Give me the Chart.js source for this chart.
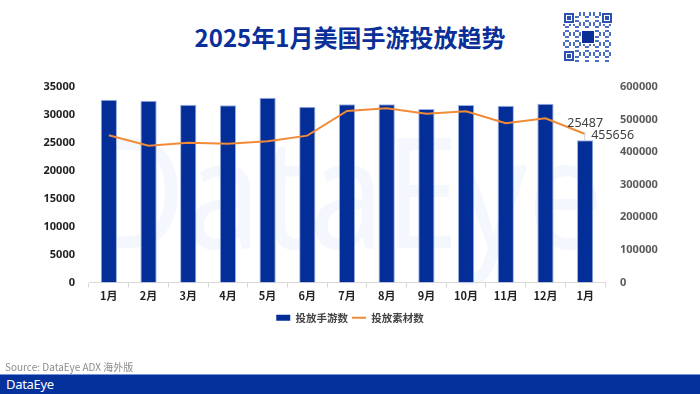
<!DOCTYPE html>
<html>
<head>
<meta charset="utf-8">
<script src="https://cdn.jsdelivr.net/npm/chart.js@4"></script>
<style>
  body { margin: 0; width: 700px; height: 394px; position: relative; overflow: hidden; background: #fff; font-family: "Noto Sans CJK SC", "Noto Sans", sans-serif; }
  #title { position: absolute; top: 20px; left: 0; width: 700px; text-align: center; font-size: 24px; font-weight: bold; color: #0a2f99; line-height: 34px; }
  #qr { position: absolute; left: 563px; top: 12px; }
  #mark { position: absolute; left: 88px; top: 111px; font-family: "Noto Sans", sans-serif; font-size: 134px; color: #f4f7fd; line-height: 1; transform: scale(1, 1.15); transform-origin: 0 0; }
  #wrap { position: absolute; left: 0; top: 0; width: 700px; height: 394px; }
  #source { position: absolute; left: 5px; top: 359px; font-size: 10px; color: #8c8c8c; }
  #foot { position: absolute; left: 0; top: 374px; width: 700px; height: 20px; background: #05319c; border-top: 1px solid #7a93d2; box-sizing: border-box; }
  #foot span { position: absolute; left: 6px; top: 0px; color: #fff; font-family: "Noto Sans", sans-serif; font-size: 13px; line-height: 19px; letter-spacing: -0.3px; }
</style>
</head>
<body>
<div id="title">2025年1月美国手游投放趋势</div>
<canvas id="qr" width="50" height="50"></canvas>
<div id="mark">DataEye</div>
<div id="wrap"><canvas id="chart" width="700" height="394"></canvas></div>
<div id="source">Source: DataEye ADX 海外版</div>
<div id="foot"><span>DataEye</span></div>
<script>
const months = ['1月', '2月', '3月', '4月', '5月', '6月', '7月', '8月', '9月', '10月', '11月', '12月', '1月'];
const games = [32730, 32550, 31840, 31730, 33090, 31480, 31910, 31910, 31070, 31780, 31660, 32010, 25487];
const creatives = [451900, 420000, 429200, 426200, 433500, 450700, 526400, 534600, 518200, 525400, 488600, 504000, 455656];
const leftTicks = [0, 5000, 10000, 15000, 20000, 25000, 30000, 35000];
const rightTicks = [0, 100000, 200000, 300000, 400000, 500000, 600000];

// QR-like badge (decoration)
const q = document.querySelector('#qr').getContext('2d');
q.fillStyle = '#fff';
q.fillRect(0, 0, 50, 50);
q.fillStyle = '#4a6fc4';
for (let i = 0; i < 25; i++) {
  for (let j = 0; j < 25; j++) {
    if (((i * 7 + j * 11 + i * j) % 5) < 2) q.fillRect(i * 2, j * 2, 2, 2);
  }
}
function finder(x, y) {
  q.fillStyle = '#fff'; q.fillRect(x - 1, y - 1, 12, 12);
  q.fillStyle = '#2a50b0'; q.fillRect(x, y, 10, 10);
  q.fillStyle = '#fff'; q.fillRect(x + 2, y + 2, 6, 6);
  q.fillStyle = '#2a50b0'; q.fillRect(x + 3, y + 3, 4, 4);
}
finder(1, 1); finder(39, 1); finder(1, 39);
q.fillStyle = '#fff'; q.fillRect(18, 18, 14, 14);
q.fillStyle = '#0a2f99'; q.fillRect(19, 19, 12, 12);

const lastLabels = {
  id: 'lastLabels',
  afterDatasetsDraw(chart) {
    const ctx = chart.ctx;
    const bar = chart.getDatasetMeta(0).data[games.length - 1];
    const pt = chart.getDatasetMeta(1).data[creatives.length - 1];
    ctx.save();
    ctx.strokeStyle = '#d0d0d0';
    ctx.lineWidth = 1;
    ctx.beginPath();
    ctx.moveTo(bar.x - 0.5, bar.y);
    ctx.lineTo(bar.x - 0.5, bar.y - 8);
    ctx.stroke();
    ctx.font = '12.5px "Noto Sans", sans-serif';
    ctx.fillStyle = '#404040';
    ctx.textAlign = 'center';
    ctx.textBaseline = 'middle';
    ctx.fillText(String(games[games.length - 1]), bar.x, bar.y - 17);
    ctx.textAlign = 'left';
    ctx.fillText(String(creatives[creatives.length - 1]), pt.x + 6, pt.y + 1);
    ctx.restore();
  }
};

const chart = document.querySelector('#chart').getContext('2d');

new Chart(chart, {
  type: 'bar',
  data: {
    labels: months,
    datasets: [
      {
        label: '投放手游数',
        data: games,
        backgroundColor: '#032e98',
        borderColor: '#9db0e0',
        borderWidth: 1,
        categoryPercentage: 1,
        barPercentage: 0.41,
        yAxisID: 'y',
        order: 2
      },
      {
        type: 'line',
        label: '投放素材数',
        data: creatives,
        borderColor: '#f28a36',
        backgroundColor: '#f28a36',
        borderWidth: 2,
        pointRadius: 0,
        tension: 0,
        yAxisID: 'y1',
        order: 1
      }
    ]
  },
  options: {
    responsive: false,
    animation: false,
    maintainAspectRatio: false,
    layout: { padding: { top: 87, bottom: 61, left: 0, right: 0 } },
    plugins: {
      tooltip: { enabled: false },
      legend: {
        position: 'bottom',
        labels: {
          usePointStyle: true,
          pointStyleWidth: 14,
          boxWidth: 14,
          boxHeight: 6,
          padding: 4,
          color: '#444',
          font: { size: 10.5, weight: 'bold', family: '"Noto Sans CJK SC", sans-serif' },
          generateLabels(c) {
            const items = Chart.defaults.plugins.legend.labels.generateLabels(c);
            items.sort((a, b) => a.datasetIndex - b.datasetIndex);
            items.forEach(it => {
              if (it.datasetIndex === 0) { it.pointStyle = 'rect'; it.lineWidth = 0; }
              else { it.pointStyle = 'line'; it.lineWidth = 2; }
            });
            return items;
          }
        }
      }
    },
    scales: {
      x: {
        offset: true,
        grid: { display: true, drawOnChartArea: false, drawTicks: true, tickLength: 5, color: '#d9d9d9', offset: true },
        border: { display: true, color: '#d9d9d9' },
        ticks: { color: '#222', padding: 2, font: { size: 11, weight: 'bold', family: '"Noto Sans CJK SC", sans-serif' } },
        afterFit(s) { s.height = 26; }
      },
      y: {
        position: 'left',
        min: 0,
        max: 35000,
        afterBuildTicks(s) { s.ticks = leftTicks.map(v => ({ value: v })); },
        grid: { display: false },
        border: { display: false },
        ticks: { color: '#222', padding: 6, callback: v => String(v), font: { size: 11, weight: 'bold', family: '"Noto Sans", sans-serif' } },
        afterFit(s) { s.width = 89; }
      },
      y1: {
        position: 'right',
        min: 0,
        max: 600000,
        afterBuildTicks(s) { s.ticks = rightTicks.map(v => ({ value: v })); },
        grid: { display: false },
        border: { display: false },
        ticks: { color: '#595959', padding: 7, callback: v => String(v), font: { size: 11, weight: 'bold', family: '"Noto Sans", sans-serif' } },
        afterFit(s) { s.width = 95; }
      }
    }
  },
  plugins: [lastLabels]
});
</script>
</body>
</html>
